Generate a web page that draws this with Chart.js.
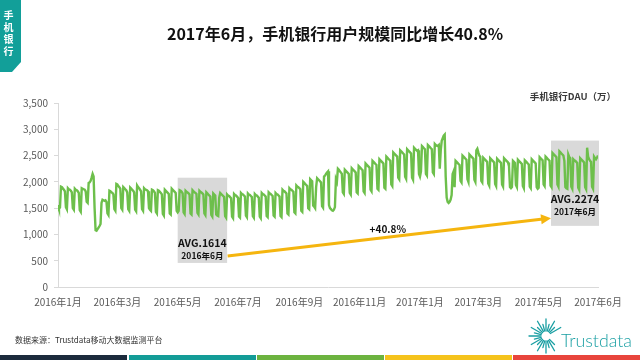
<!DOCTYPE html>
<html><head><meta charset="utf-8">
<style>html,body{margin:0;padding:0;background:#fff;}canvas{display:block;}</style>
<script src="https://cdn.jsdelivr.net/npm/chart.js@4.4.1/dist/chart.umd.min.js"></script>
</head><body><canvas id="c" width="640" height="360"></canvas>
<script>
const titleText = '2017年6月，手机银行用户规模同比增长40.8%';
const seriesName = '手机银行DAU（万）';
const tabText = ['手','机','银','行'];
const sourceText = '数据来源：Trustdata移动大数据监测平台';
const xTickIdx = [0, 60, 121, 182, 244, 305, 366, 425, 486, 546];
const xTickLabels = ['2016年1月','2016年3月','2016年5月','2016年7月','2016年9月','2016年11月','2017年1月','2017年3月','2017年5月','2017年6月'];
const avgValues = [1614, 2274];
const avgMonths = ['2016年6月', '2017年6月'];
const growthLabel = '+40.8%';
// daily DAU, 2016-01-01 .. 2017-06-30 (one row per week, Mon..Sun)
const dau = [
1560,1490,1510,
1910,1900,1870,1850,1820,1520,1480,
1880,1860,1850,1830,1800,1500,1470,
1870,1850,1840,1820,1790,1460,1430,
1880,1870,1860,1850,1820,1620,1600,
1980,1990,2020,2080,2150,2100,1500,
1080,1070,1100,1130,1160,1200,1600,
1660,1650,1640,1650,1620,1400,1370,
1830,1820,1800,1790,1760,1480,1450,
1960,1950,1920,1900,1870,1500,1470,
1900,1880,1860,1840,1800,1480,1450,
1890,1870,1850,1830,1800,1470,1440,
1930,1900,1880,1850,1820,1480,1450,
1880,1860,1850,1840,1820,1500,1470,
1450,1850,1840,1820,1790,1430,1400,
1840,1830,1810,1790,1760,1390,1360,
1850,1830,1810,1790,1770,1400,1380,
1870,1850,1830,1810,1790,1450,1420,
1450,1840,1830,1810,1780,1420,1390,
1830,1810,1800,1780,1760,1400,1380,
1840,1820,1800,1790,1770,1410,1380,
1830,1810,1800,1780,1760,1400,1370,
1800,1780,1760,1740,1720,1370,1340,
1780,1760,1740,1380,1360,1350,1700,
1790,1770,1750,1730,1710,1350,1320,
1760,1740,1730,1710,1690,1340,1310,
1770,1750,1740,1720,1700,1340,1320,
1790,1770,1760,1740,1720,1360,1330,
1780,1760,1750,1730,1710,1350,1320,
1770,1750,1740,1720,1700,1340,1310,
1790,1770,1760,1740,1720,1350,1330,
1800,1780,1770,1750,1730,1360,1340,
1790,1770,1760,1740,1720,1350,1330,
1850,1830,1820,1800,1780,1400,1380,
1880,1860,1850,1830,1810,1420,1400,
1930,1910,1900,1880,1860,1450,1430,
2000,1980,1960,1940,1920,1500,1480,
2050,2030,2010,1550,1530,1500,1900,
2070,2050,2030,2010,1990,1540,1510,
2100,2120,2150,2180,2200,1560,1500,
1480,1460,1450,1470,1520,2050,2000,
2250,2230,2200,2180,2150,1800,1770,
2230,2210,2190,2170,2150,1790,1760,
2260,2240,2220,2200,2180,1800,1780,
2300,2280,2260,2240,2220,1820,1790,
2350,2330,2310,2290,2270,1850,1820,
2400,2380,2360,2340,2320,1870,1850,
2430,2410,2390,2370,2350,1890,1870,
2480,2460,2440,2420,2400,1950,1920,
2560,2540,2520,2500,2480,2080,2050,
2600,2580,2560,2540,2520,2100,2060,
2620,2600,2580,2560,2540,2080,2040,
2650,2630,2610,2590,2600,2150,2100,
2200,2680,2660,2640,2620,2150,2120,
2700,2680,2660,2640,2620,2180,2150,
2720,2700,2690,2680,2700,2250,2600,
2780,2830,2880,2900,2100,1700,1620,
1600,1620,1660,1750,2150,2200,1900,
2400,2380,2360,2340,2320,2020,1990,
2500,2480,2460,2440,2420,2050,2000,
2520,2500,2480,2460,2440,2040,2000,
2600,2630,2560,2500,2480,2020,1990,
2460,2440,2420,2400,2380,1970,1930,
2450,2430,2410,2390,2370,1960,1920,
2440,2420,2400,2380,2360,1950,1910,
2450,2430,2410,2390,2370,2300,1900,
1880,1900,2400,2380,2360,1940,1900,
2420,2400,2380,2360,2340,1920,1880,
2410,2390,2370,2350,2330,1910,1880,
2430,2410,2390,2370,2350,1900,1870,
1890,2470,2450,2430,2410,1950,1920,
2480,2460,2440,2420,2400,1930,1900,
2550,2530,2510,2490,2470,1950,1910,
2580,2560,2540,2520,2500,2400,1900,
1880,1870,2520,2470,2450,1910,1870,
2430,2410,2400,2380,2360,1890,1850,
2450,2430,2410,2390,2370,1900,1860,
2650,2480,2430,2400,2380,1910,1870,
2480,2450,2430,2460,2500
];

const CJK = '"Noto Sans CJK SC","Microsoft YaHei",sans-serif';

const decor = {
  id: 'decor',
  beforeDatasetsDraw(chart) {
    const {ctx, scales: {x, y}} = chart;
    ctx.save();
    ctx.fillStyle = '#d9d9d9';
    const boxes = [[121, 171, 458, 2079], [498.5, 547, 1163, 2785]];
    boxes.forEach(b => {
      const x0 = x.getPixelForValue(b[0]), x1 = x.getPixelForValue(b[1]);
      const y0 = y.getPixelForValue(b[3]), y1 = y.getPixelForValue(b[2]);
      ctx.fillRect(x0, y0, x1 - x0, y1 - y0);
    });
    ctx.restore();
  },
  afterDatasetsDraw(chart) {
    const {ctx, scales: {x, y}} = chart;
    ctx.save();
    // arrow
    const ax0 = x.getPixelForValue(171.5), ay0 = y.getPixelForValue(591);
    const ax1 = x.getPixelForValue(498.5), ay1 = y.getPixelForValue(1310);
    const ang = Math.atan2(ay1 - ay0, ax1 - ax0);
    ctx.strokeStyle = '#f5b50f'; ctx.fillStyle = '#f5b50f'; ctx.lineWidth = 3;
    ctx.beginPath(); ctx.moveTo(ax0, ay0);
    ctx.lineTo(ax1 - 8 * Math.cos(ang), ay1 - 8 * Math.sin(ang)); ctx.stroke();
    ctx.beginPath();
    ctx.moveTo(ax1, ay1);
    ctx.lineTo(ax1 - 10 * Math.cos(ang) + 5 * Math.sin(ang), ay1 - 10 * Math.sin(ang) - 5 * Math.cos(ang));
    ctx.lineTo(ax1 - 10 * Math.cos(ang) - 5 * Math.sin(ang), ay1 - 10 * Math.sin(ang) + 5 * Math.cos(ang));
    ctx.closePath(); ctx.fill();
    // labels
    ctx.fillStyle = '#111'; ctx.textAlign = 'center'; ctx.textBaseline = 'middle';
    const lab = [[146, 839, 591], [522.75, 1678, 1430]];
    lab.forEach((l, i) => {
      ctx.font = 'bold 10.5px ' + CJK;
      ctx.fillText('AVG.' + avgValues[i], x.getPixelForValue(l[0]), y.getPixelForValue(l[1]));
      ctx.font = 'bold 8.5px ' + CJK;
      ctx.fillText(avgMonths[i], x.getPixelForValue(l[0]), y.getPixelForValue(l[2]));
    });
    ctx.font = 'bold 10px ' + CJK;
    ctx.fillText(growthLabel, x.getPixelForValue(333.5), y.getPixelForValue(1106));
    ctx.restore();
  },
  afterDraw(chart) {
    const ctx = chart.ctx;
    ctx.save();
    // left tab
    ctx.fillStyle = '#129f99';
    ctx.beginPath();
    ctx.moveTo(0, 0); ctx.lineTo(21, 0); ctx.lineTo(21, 62); ctx.lineTo(12, 72); ctx.lineTo(0, 72);
    ctx.closePath(); ctx.fill();
    ctx.fillStyle = '#fff'; ctx.font = 'bold 10px ' + CJK;
    ctx.textAlign = 'center'; ctx.textBaseline = 'middle';
    tabText.forEach((t, i) => ctx.fillText(t, 8.5, 15 + i * 12));
    // title
    ctx.fillStyle = '#111'; ctx.font = 'bold 16px ' + CJK;
    ctx.fillText(titleText, 335, 34);
    // series name
    ctx.fillStyle = '#3a3a3a'; ctx.font = 'bold 9.5px ' + CJK; ctx.textAlign = 'right';
    ctx.fillText(seriesName, 616, 96);
    // source
    ctx.fillStyle = '#333'; ctx.font = '8px ' + CJK; ctx.textAlign = 'left';
    ctx.fillText(sourceText, 15, 340);
    // bottom bars
    const cols = ['#1c2b3c', '#139c97', '#6cb33f', '#f5c31c', '#e8453c'];
    cols.forEach((c, i) => { ctx.fillStyle = c; ctx.fillRect(i * 128 + (i ? 1 : 0), 355, 127, 5); });
    // logo
    const cx = 546, cy = 336;
    ctx.strokeStyle = '#1a9fa3'; ctx.lineWidth = 1.3; ctx.lineCap = 'round';
    for (let a = 0; a < 360; a += 15) {
      if (a > 330 || a < 40) continue;
      const r = a % 30 === 0 ? 17 : 12;
      const rad = a * Math.PI / 180;
      ctx.beginPath();
      ctx.moveTo(cx + 5 * Math.cos(rad), cy + 5 * Math.sin(rad));
      ctx.lineTo(cx + r * Math.cos(rad), cy + r * Math.sin(rad));
      ctx.stroke();
    }
    ctx.fillStyle = '#1a9fa3';
    let fs = 18; ctx.font = '300 ' + fs + 'px Lato, "Open Sans", sans-serif';
    const w = ctx.measureText('Trustdata').width; fs = fs * 71 / w;
    ctx.font = '300 ' + fs + 'px Lato, "Open Sans", sans-serif';
    ctx.textBaseline = 'alphabetic';
    ctx.fillText('Trustdata', 561, 347);
    ctx.restore();
  }
};

new Chart(document.getElementById('c'), {
  type: 'line',
  data: {
    datasets: [{
      label: seriesName,
      data: dau.map((v, i) => ({x: i, y: v})),
      borderColor: '#6dbf4b', borderWidth: 2.4, pointRadius: 0, tension: 0, fill: false
    }]
  },
  options: {
    responsive: false, animation: false, devicePixelRatio: 1,
    layout: {padding: {top: 103, right: 42, left: 0, bottom: 0}},
    plugins: {legend: {display: false}, tooltip: {enabled: false}},
    scales: {
      x: {
        type: 'linear', min: 0, max: 546,
        afterBuildTicks: a => { a.ticks = xTickIdx.map(v => ({value: v})); },
        afterFit: s => { s.height = 73; },
        grid: {display: false, drawTicks: false},
        border: {display: true, color: '#d9d9d9'},
        ticks: {
          autoSkip: false, maxRotation: 0, padding: 9, color: '#595959',
          font: {size: 10, family: CJK},
          callback: v => { const k = xTickIdx.indexOf(v); return k >= 0 ? xTickLabels[k] : ''; }
        }
      },
      y: {
        min: 0, max: 3500,
        afterFit: s => { s.width = 58; },
        grid: {drawOnChartArea: false, tickLength: 4, color: '#d9d9d9'},
        border: {display: true, color: '#d9d9d9'},
        ticks: {
          stepSize: 500, padding: 6, color: '#595959',
          font: {size: 10, family: CJK},
          callback: v => v.toLocaleString('en-US')
        }
      }
    }
  },
  plugins: [decor]
});
</script></body></html>
